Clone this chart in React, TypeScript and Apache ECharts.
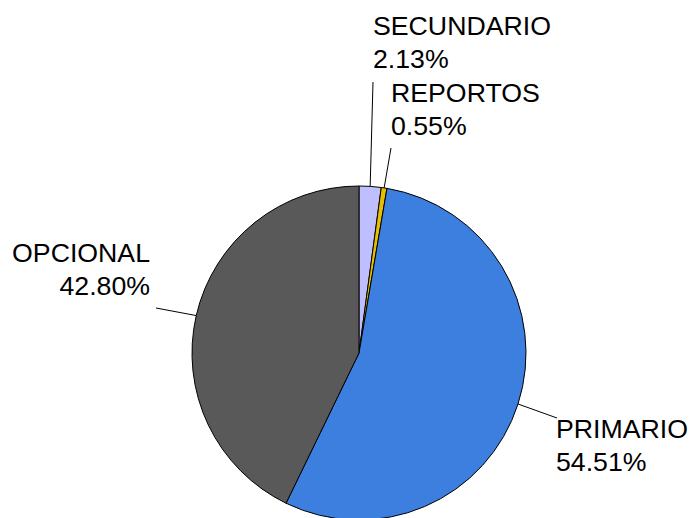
import React, { useEffect, useRef } from "react";
import * as echarts from "echarts";

const categories = ["SECUNDARIO", "REPORTOS", "PRIMARIO", "OPCIONAL"];
const values = [2.13, 0.55, 54.51, 42.8];
const colors = ["#BFBFFF", "#E6C000", "#3C7FDE", "#595959"];

// label placement (text anchor + leader-line end), per slice
const labelPlacement = [
  { x: 373, y: 42.5, align: "left", end: [373, 82] },
  { x: 391, y: 109, align: "left", end: [391, 148] },
  { x: 556, y: 445, align: "left", end: [557, 418] },
  { x: 150, y: 269.5, align: "right", end: [156, 308] },
];

export default function App() {
  const ref = useRef<HTMLDivElement>(null);
  useEffect(() => {
    document.body.style.margin = "0";
    const chart = echarts.init(ref.current!, null, { renderer: "svg" });
    chart.setOption({
      animation: false,
      backgroundColor: "#ffffff",
      series: [
        {
          type: "pie",
          center: [359, 353],
          radius: 167,
          startAngle: 90,
          clockwise: true,
          avoidLabelOverlap: false,
          data: categories.map((name, i) => ({
            name,
            value: values[i],
            itemStyle: { color: colors[i] },
          })),
          itemStyle: { borderColor: "#000000", borderWidth: 1 },
          label: {
            show: true,
            position: "outside",
            formatter: (p: any) => `${p.name}\n${Number(p.value).toFixed(2)}%`,
            color: "#000000",
            fontFamily: "'Liberation Sans', Arial, sans-serif",
            fontSize: 26.7,
            lineHeight: 33,
          },
          labelLine: {
            show: true,
            lineStyle: { color: "#000000", width: 1 },
          },
          labelLayout: (params: any) => {
            const lp = labelPlacement[params.dataIndex];
            const start = params.labelLinePoints ? params.labelLinePoints[0] : lp.end;
            return {
              x: lp.x,
              y: lp.y,
              align: lp.align,
              verticalAlign: "middle",
              labelLinePoints: [start, lp.end],
            };
          },
        },
      ],
    });
    return () => chart.dispose();
  }, []);
  return <div ref={ref} style={{ width: 692, height: 518 }} />;
}
